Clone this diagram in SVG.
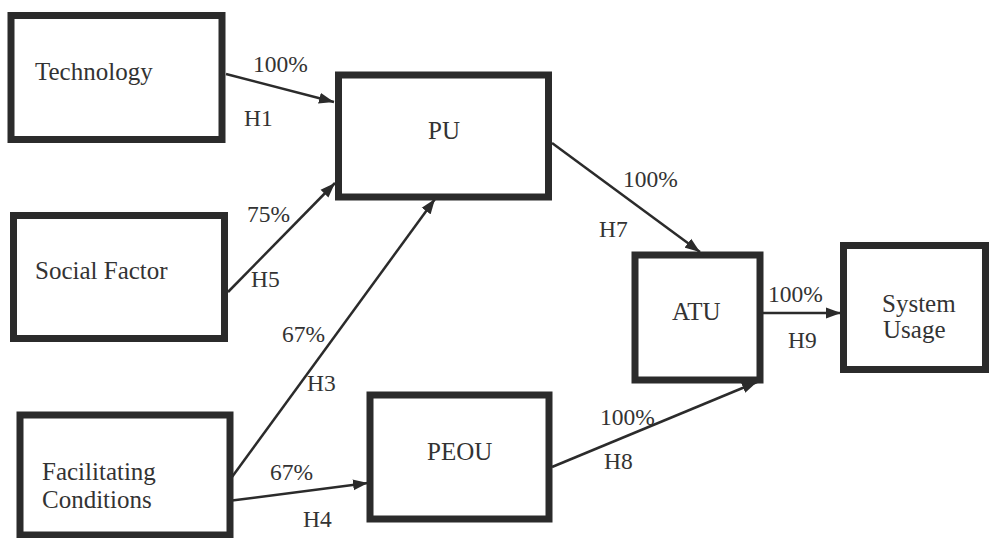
<svg xmlns="http://www.w3.org/2000/svg" width="989" height="538" viewBox="0 0 989 538">
  <style>
    .box { fill: none; stroke: #2b2b2b; stroke-width: 7; }
    .lbl { font-family: "Liberation Serif", "Times New Roman", serif; font-size: 25px; fill: #333333; }
    .edge { font-family: "Liberation Serif", "Times New Roman", serif; font-size: 23.5px; fill: #333333; }
    .conn { stroke: #2b2b2b; stroke-width: 2.5; fill: none; marker-end: url(#arrow); }
  </style>
  <defs>
    <marker id="arrow" markerUnits="userSpaceOnUse" markerWidth="16" markerHeight="12" refX="15" refY="6" orient="auto">
      <path d="M0,0.5 L15,6 L0,11.5 z" fill="#2b2b2b"/>
    </marker>
  </defs>
  <rect width="989" height="538" fill="#ffffff"/>

  <g id="connectors">
    <line class="conn" x1="226" y1="74" x2="334" y2="102"/>
    <line class="conn" x1="228" y1="292" x2="335" y2="183"/>
    <line class="conn" x1="232" y1="477" x2="435" y2="199"/>
    <line class="conn" x1="228" y1="501" x2="368" y2="483"/>
    <line class="conn" x1="552" y1="143" x2="700" y2="252"/>
    <line class="conn" x1="552" y1="467" x2="757" y2="382"/>
    <line class="conn" x1="763" y1="313" x2="841" y2="313"/>
    <text class="edge" x="253" y="72">100%</text>
    <text class="edge" x="244" y="126">H1</text>
    <text class="edge" x="247" y="222">75%</text>
    <text class="edge" x="251" y="287">H5</text>
    <text class="edge" x="282" y="342">67%</text>
    <text class="edge" x="307" y="391">H3</text>
    <text class="edge" x="270" y="480">67%</text>
    <text class="edge" x="303" y="527">H4</text>
    <text class="edge" x="623" y="187">100%</text>
    <text class="edge" x="599" y="237">H7</text>
    <text class="edge" x="600" y="425">100%</text>
    <text class="edge" x="604" y="469">H8</text>
    <text class="edge" x="768" y="302">100%</text>
    <text class="edge" x="788" y="348">H9</text>
  </g>

  <g id="technology">
    <rect class="box" x="11" y="15.5" width="211" height="124"/>
    <text class="lbl" x="35" y="80">Technology</text>
  </g>
  <g id="social-factor">
    <rect class="box" x="13.5" y="215.5" width="211" height="123"/>
    <text class="lbl" x="35" y="279">Social Factor</text>
  </g>
  <g id="facilitating-conditions">
    <rect class="box" x="20" y="415" width="210" height="120"/>
    <text class="lbl" x="42" y="480">Facilitating</text>
    <text class="lbl" x="42" y="508">Conditions</text>
  </g>
  <g id="pu">
    <rect class="box" x="338.5" y="75" width="210" height="122"/>
    <text class="lbl" x="428" y="139">PU</text>
  </g>
  <g id="peou">
    <rect class="box" x="370" y="395" width="179" height="124"/>
    <text class="lbl" x="427" y="460">PEOU</text>
  </g>
  <g id="atu">
    <rect class="box" x="635" y="255" width="125" height="125"/>
    <text class="lbl" x="672" y="320">ATU</text>
  </g>
  <g id="system-usage">
    <rect class="box" x="843.5" y="245.5" width="142" height="124"/>
    <text class="lbl" x="882" y="312">System</text>
    <text class="lbl" x="883" y="338">Usage</text>
  </g>
</svg>
